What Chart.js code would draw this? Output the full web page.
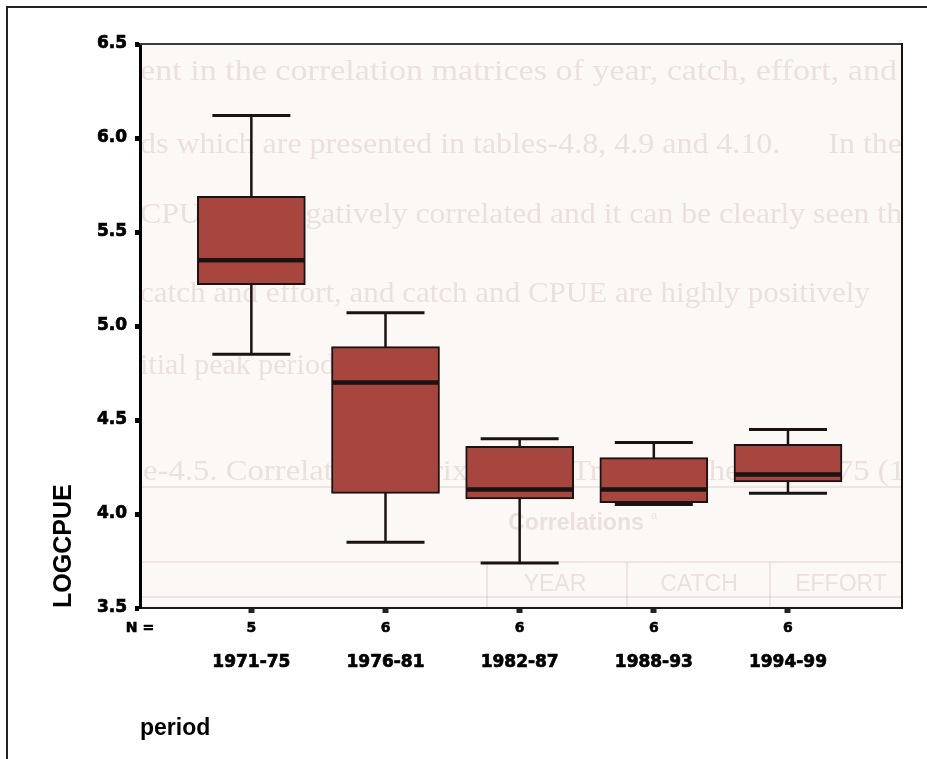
<!DOCTYPE html>
<html>
<head>
<meta charset="utf-8">
<script src="https://cdn.jsdelivr.net/npm/chart.js@4.4.1/dist/chart.umd.min.js"></script>
<style>
  html, body { margin: 0; padding: 0; background: #ffffff; }
  #wrap { width: 927px; height: 759px; }
</style>
</head>
<body>
<div id="wrap"><canvas id="c" width="927" height="759"></canvas></div>
<script>
// Box-plot summary of LOGCPUE by period
const periods     = ['1971-75', '1976-81', '1982-87', '1988-93', '1994-99'];
const counts      = [5, 6, 6, 6, 6];
const whiskerLow  = [4.85, 3.85, 3.74, 4.05, 4.11];
const quart1      = [5.22, 4.11, 4.08, 4.06, 4.17];
const medians     = [5.35, 4.70, 4.13, 4.13, 4.21];
const quart3      = [5.69, 4.89, 4.36, 4.30, 4.37];
const whiskerHigh = [6.12, 5.07, 4.40, 4.38, 4.45];
const yTicks      = [3.5, 4.0, 4.5, 5.0, 5.5, 6.0, 6.5];

// Faint printed page text that shows through the paper behind the plot
const pageLines = [
  'ent in the correlation matrices of year, catch, effort, and',
  'ds which are presented in tables-4.8, 4.9 and 4.10.      In the',
  'CPUE are negatively correlated and it can be clearly seen th',
  'catch and effort, and catch and CPUE are highly positively',
  'itial peak period',
  'e-4.5. Correlation matrix for the Trawl catches 1971-75 (1'
];
const pageTable = ['Correlations', 'YEAR', 'CATCH', 'EFFORT', 'EAR', 'Pearson Correlation'];

const BOX_COLOR = '#a7463e';
const INK = '#1b1212';
const CAP_HALF = 39;
const LABEL_FONT = '"DejaVu Sans", Verdana, sans-serif';

const pagePlugin = {
  id: 'page',
  beforeDraw(chart) {
    const { ctx, chartArea: a } = chart;
    ctx.save();
    ctx.fillStyle = '#ffffff';
    ctx.fillRect(0, 0, chart.width, chart.height);
    ctx.fillStyle = '#fcf8f6';
    ctx.fillRect(a.left, a.top, a.right - a.left, a.bottom - a.top);

    // show-through text, clipped to the plotting area
    ctx.beginPath();
    ctx.rect(a.left, a.top, a.right - a.left, a.bottom - a.top);
    ctx.clip();
    const ghost = 'rgba(125, 80, 75, 0.14)';
    ctx.fillStyle = ghost;
    ctx.textBaseline = 'alphabetic';
    ctx.textAlign = 'left';
    ctx.font = '30px "Liberation Serif", "DejaVu Serif", serif';
    const rows = [
      { y: 80,  x0: 140, x1: 897 },
      { y: 153, x0: 140, x1: 902 },
      { y: 223, x0: 140, x1: 902 },
      { y: 302, x0: 140, x1: 870 },
      { y: 374, x0: 140, x1: null },
      { y: 480, x0: 143, x1: 905 }
    ];
    pageLines.forEach((t, i) => {
      const r = rows[i];
      const w = ctx.measureText(t).width;
      const s = r.x1 ? (r.x1 - r.x0) / w : 1;
      ctx.save();
      ctx.translate(r.x0, r.y);
      ctx.scale(s, 1);
      ctx.fillText(t, 0, 0);
      ctx.restore();
    });
    // table rules
    ctx.strokeStyle = 'rgba(125, 80, 75, 0.11)';
    ctx.lineWidth = 2;
    [487, 562, 597].forEach(y => {
      ctx.beginPath(); ctx.moveTo(a.left, y); ctx.lineTo(a.right, y); ctx.stroke();
    });
    [487, 627, 770].forEach(x => {
      ctx.beginPath(); ctx.moveTo(x, 562); ctx.lineTo(x, a.bottom); ctx.stroke();
    });
    ctx.fillStyle = ghost;
    ctx.textAlign = 'center';
    ctx.textBaseline = 'middle';
    ctx.font = 'bold 23px "Liberation Sans", Arial, sans-serif';
    ctx.fillText(pageTable[0], 576, 524);
    ctx.font = '11px "Liberation Sans", Arial, sans-serif';
    ctx.fillText('a', 654, 516);
    ctx.font = '23px "Liberation Sans", Arial, sans-serif';
    ctx.fillText(pageTable[1], 555, 585);
    ctx.fillText(pageTable[2], 699, 585);
    ctx.fillText(pageTable[3], 841, 585);
    ctx.textAlign = 'left';
    ctx.font = '22px "Liberation Serif", serif';
    ctx.fillText(pageTable[4], 148, 618);
    ctx.font = '20px "Liberation Sans", Arial, sans-serif';
    ctx.fillText(pageTable[5], 262, 618);
    ctx.restore();

    // outer frame of the figure
    ctx.save();
    ctx.strokeStyle = '#222';
    ctx.lineWidth = 2;
    ctx.beginPath();
    ctx.moveTo(927, 7);
    ctx.lineTo(7, 7);
    ctx.lineTo(7, 759);
    ctx.stroke();
    ctx.restore();
  }
};

const whiskerPlugin = {
  id: 'whiskers',
  beforeDatasetsDraw(chart) {
    const { ctx, scales: { x, y } } = chart;
    ctx.save();
    ctx.strokeStyle = INK;
    periods.forEach((p, i) => {
      const cx = x.getPixelForValue(i);
      ctx.lineWidth = 2.5;
      ctx.beginPath();
      ctx.moveTo(cx, y.getPixelForValue(whiskerLow[i]));
      ctx.lineTo(cx, y.getPixelForValue(whiskerHigh[i]));
      ctx.stroke();
      ctx.lineWidth = 3;
      [whiskerLow[i], whiskerHigh[i]].forEach(v => {
        const py = y.getPixelForValue(v);
        ctx.beginPath();
        ctx.moveTo(cx - CAP_HALF, py);
        ctx.lineTo(cx + CAP_HALF, py);
        ctx.stroke();
      });
    });
    ctx.restore();
  },
  afterDatasetsDraw(chart) {
    const { ctx, scales: { y } } = chart;
    const meta = chart.getDatasetMeta(0);
    ctx.save();
    ctx.strokeStyle = INK;
    ctx.lineWidth = 4.5;
    meta.data.forEach((bar, i) => {
      const half = bar.width / 2;
      const py = y.getPixelForValue(medians[i]);
      ctx.beginPath();
      ctx.moveTo(bar.x - half + 1, py);
      ctx.lineTo(bar.x + half - 1, py);
      ctx.stroke();
    });
    ctx.restore();
  },
  afterDraw(chart) {
    const { ctx, chartArea: a, scales: { x } } = chart;
    ctx.save();
    // top and right edges of the plotting frame
    ctx.strokeStyle = '#3a3a3a';
    ctx.lineWidth = 2;
    ctx.beginPath();
    ctx.moveTo(a.left, a.top);
    ctx.lineTo(a.right, a.top);
    ctx.stroke();
    ctx.strokeStyle = '#111';
    ctx.beginPath();
    ctx.moveTo(a.right, a.top - 1);
    ctx.lineTo(a.right, a.bottom);
    ctx.stroke();
    // group sizes
    ctx.fillStyle = '#000';
    ctx.strokeStyle = '#000';
    ctx.lineWidth = 0.6;
    ctx.textBaseline = 'middle';
    ctx.textAlign = 'center';
    ctx.font = 'bold 14px ' + LABEL_FONT;
    ctx.fillText('N =', 140, 628);
    ctx.strokeText('N =', 140, 628);
    counts.forEach((n, i) => {
      const px = x.getPixelForValue(i);
      ctx.fillText(String(n), px, 628);
      ctx.strokeText(String(n), px, 628);
    });
    ctx.restore();
  }
};

new Chart(document.getElementById('c'), {
  type: 'bar',
  data: {
    datasets: [{
      data: periods.map((p, i) => ({ x: i, y: [quart1[i], quart3[i]] })),
      backgroundColor: BOX_COLOR,
      borderColor: INK,
      borderWidth: 2,
      borderSkipped: false,
      barThickness: 108
    }]
  },
  options: {
    responsive: false,
    animation: false,
    devicePixelRatio: 1,
    layout: { padding: { left: 0, top: 44, right: 25, bottom: 0 } },
    plugins: { legend: { display: false }, tooltip: { enabled: false } },
    scales: {
      x: {
        type: 'linear',
        offset: false,
        min: -0.83,
        max: 4.85,
        afterBuildTicks: s => { s.ticks = periods.map((p, i) => ({ value: i })); },
        afterFit: s => { s.height = 151; },
        ticks: {
          callback: v => periods[v],
          color: '#000',
          textStrokeColor: '#000',
          textStrokeWidth: 0.7,
          font: { family: LABEL_FONT, size: 17, weight: 'bold' },
          padding: 39,
          maxRotation: 0,
          autoSkip: false
        },
        grid: { offset: false, drawOnChartArea: false, drawTicks: true, tickLength: 5, tickWidth: 6, tickColor: '#222' },
        border: { display: true, color: '#1a1a1a', width: 2 },
        title: {
          display: true,
          text: 'period',
          align: 'start',
          color: '#000',
          font: { family: '"Liberation Sans", Arial, sans-serif', size: 23, weight: 'bold' },
          padding: { top: 0, bottom: 17 }
        }
      },
      y: {
        min: 3.5,
        max: 6.5,
        afterBuildTicks: s => { s.ticks = yTicks.map(v => ({ value: v })); },
        afterFit: s => { s.width = 140; },
        ticks: {
          callback: v => Number(v).toFixed(1),
          color: '#000',
          textStrokeColor: '#000',
          textStrokeWidth: 0.7,
          font: { family: LABEL_FONT, size: 17, weight: 'bold' },
          padding: 8
        },
        grid: { drawOnChartArea: false, drawTicks: true, tickLength: 5, tickWidth: 5, tickColor: '#000' },
        border: { display: true, color: '#000', width: 3 },
        title: {
          display: true,
          text: 'LOGCPUE',
          align: 'start',
          color: '#000',
          font: { family: '"Liberation Sans", Arial, sans-serif', size: 25, weight: 'bold' },
          padding: { top: 49, bottom: 0 }
        }
      }
    }
  },
  plugins: [pagePlugin, whiskerPlugin]
});
</script>
</body>
</html>
